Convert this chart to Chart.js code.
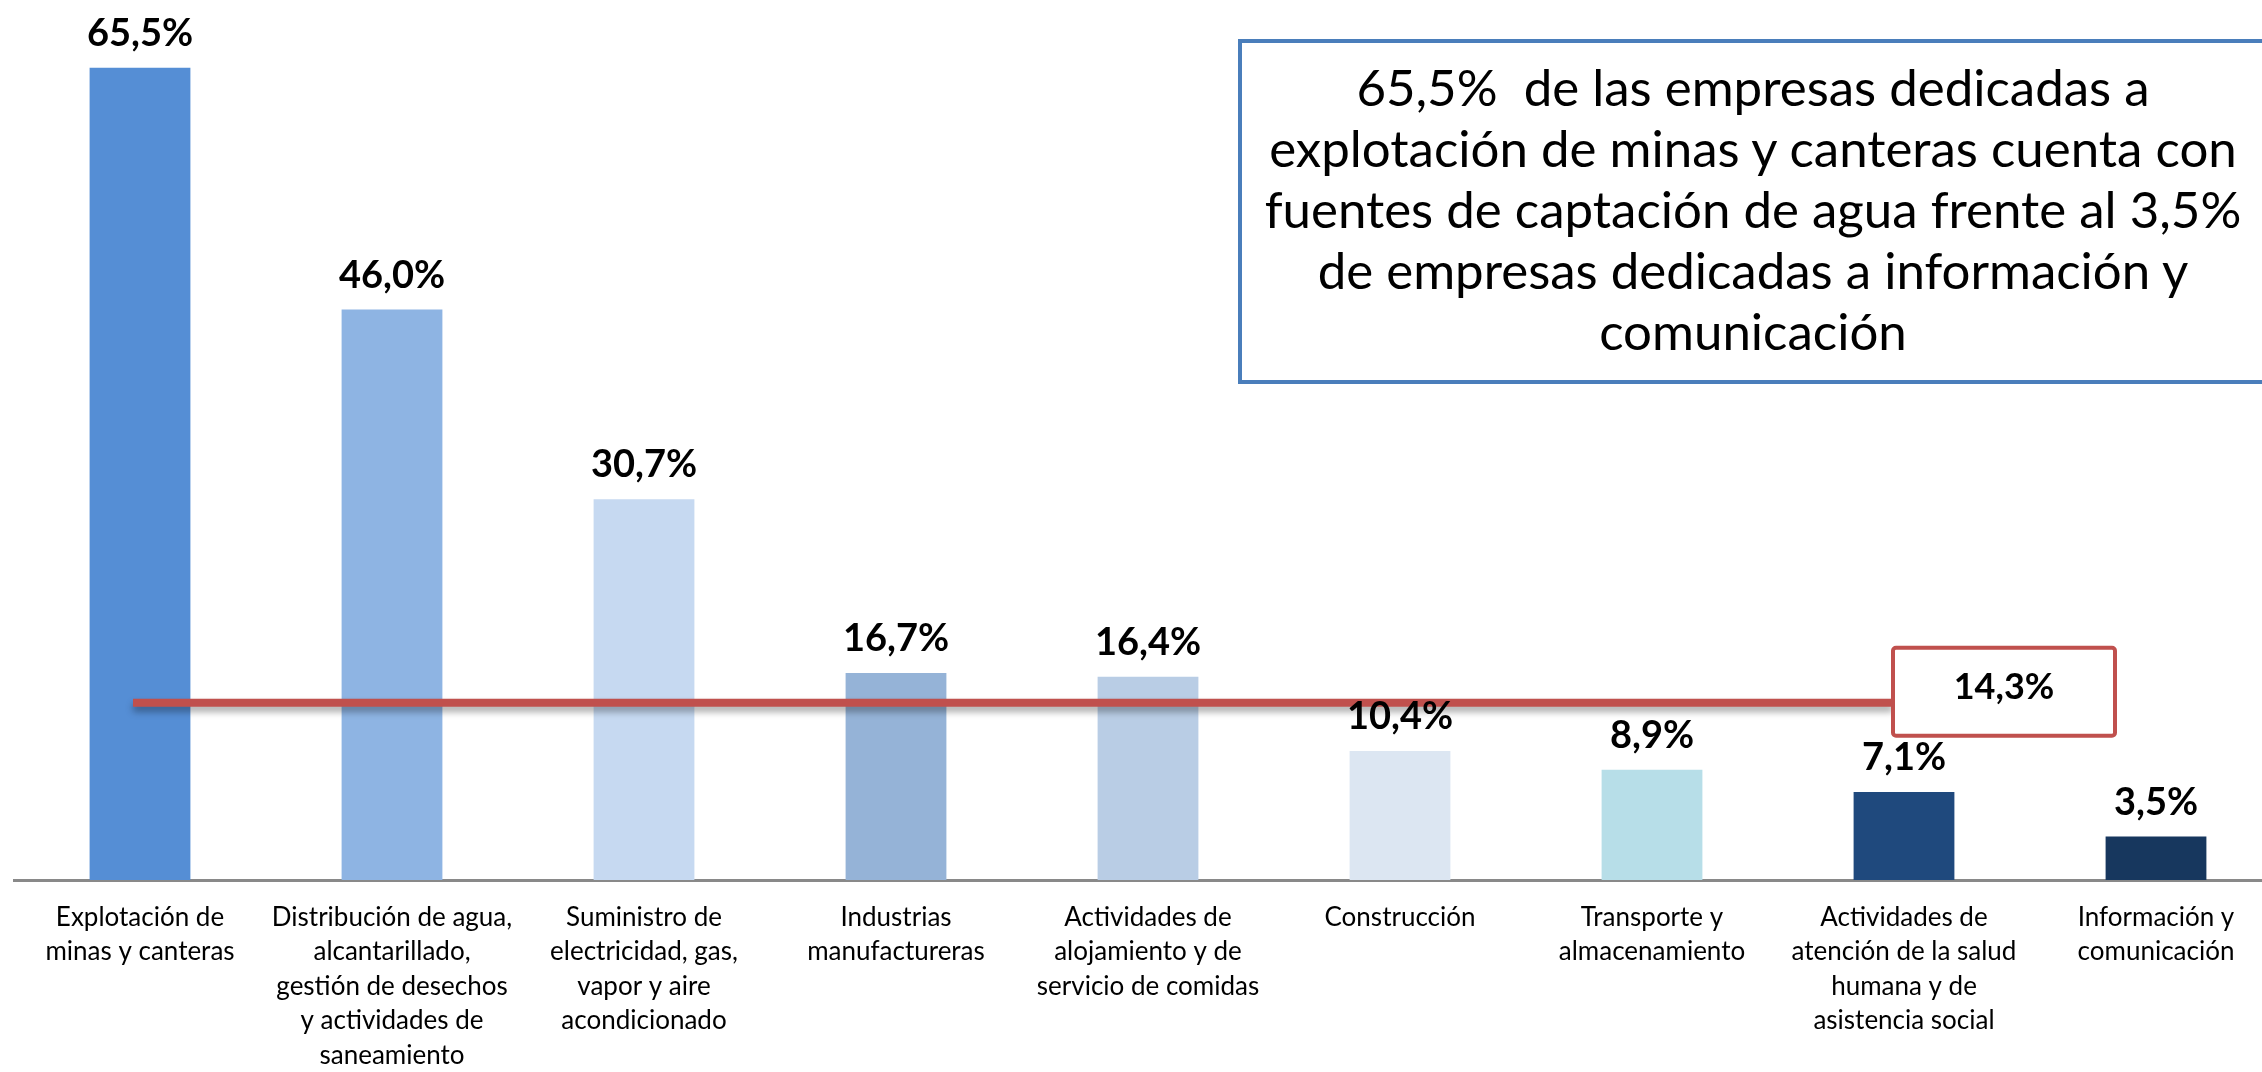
<!DOCTYPE html>
<html>
<head>
<meta charset="utf-8">
<script src="https://cdn.jsdelivr.net/npm/chart.js@4.4.1/dist/chart.umd.min.js"></script>
<style>
  html, body { margin: 0; padding: 0; background: #fff; overflow: hidden; }
  #wrap { position: relative; width: 2262px; height: 1072px; overflow: hidden; }
  #chart { position: absolute; left: 0; top: 0; }
  #note {
    position: absolute; left: 1238px; top: 39px; width: 1030px; height: 345px;
    box-sizing: border-box; border: 4px solid #4A7EBB; background: #fff;
    font-family: Lato, sans-serif; font-size: 51px; line-height: 61px;
    text-align: center; color: #000; padding-top: 13px; white-space: nowrap;
  }
</style>
</head>
<body>
<div id="wrap">
  <canvas id="chart" width="2282" height="1072"></canvas>
  <div id="note">65,5%&nbsp; de las empresas dedicadas a<br>explotación de minas y canteras cuenta con<br>fuentes de captación de agua frente al 3,5%<br>de empresas dedicadas a información y<br>comunicación</div>
</div>
<script>
// categories, wrapped as in the original slide
const categories = [
  ["Explotación de", "minas y canteras"],
  ["Distribución de agua,", "alcantarillado,", "gestión de desechos", "y actividades de", "saneamiento"],
  ["Suministro de", "electricidad, gas,", "vapor y aire", "acondicionado"],
  ["Industrias", "manufactureras"],
  ["Actividades de", "alojamiento y de", "servicio de comidas"],
  ["Construcción"],
  ["Transporte y", "almacenamiento"],
  ["Actividades de", "atención de la salud", "humana y de", "asistencia social"],
  ["Información y", "comunicación"]
];
const values = [65.5, 46.0, 30.7, 16.7, 16.4, 10.4, 8.9, 7.1, 3.5];
const barColors = ["#558ED5", "#8EB4E3", "#C6D9F1", "#95B3D7", "#B9CDE5", "#DCE6F2", "#B7DEE8", "#1F497D", "#17375E"];
const average = 14.3;

const fmt = (v) => v.toFixed(1).replace('.', ',') + '%';

const labelsAndAverage = {
  id: 'labelsAndAverage',
  afterDatasetsDraw(chart) {
    const ctx = chart.ctx;
    const xs = chart.scales.x;
    const ys = chart.scales.y;
    const meta = chart.getDatasetMeta(0);

    // average line with its shadow
    const yAvg = ys.getPixelForValue(average);
    const boxLeft = xs.getPixelForValue(7) - 11;
    ctx.save();
    ctx.shadowColor = 'rgba(0,0,0,0.35)';
    ctx.shadowBlur = 7;
    ctx.shadowOffsetY = 5;
    ctx.strokeStyle = '#C0504D';
    ctx.lineWidth = 8;
    ctx.beginPath();
    ctx.moveTo(xs.getPixelForValue(0) - 7, yAvg);
    ctx.lineTo(boxLeft, yAvg);
    ctx.stroke();
    ctx.restore();

    // average box
    ctx.save();
    ctx.fillStyle = '#fff';
    ctx.strokeStyle = '#C0504D';
    ctx.lineWidth = 4;
    ctx.beginPath();
    ctx.roundRect(boxLeft, yAvg - 55, 222, 88, 3);
    ctx.fill();
    ctx.stroke();
    ctx.fillStyle = '#000';
    ctx.font = 'bold 36px Lato';
    ctx.textAlign = 'center';
    ctx.textBaseline = 'middle';
    ctx.fillText(fmt(average), boxLeft + 111, yAvg - 15);
    ctx.restore();

    // data labels
    ctx.save();
    ctx.fillStyle = '#000';
    ctx.font = 'bold 38px Lato';
    ctx.textAlign = 'center';
    ctx.textBaseline = 'alphabetic';
    meta.data.forEach((bar, i) => {
      ctx.fillText(fmt(values[i]), bar.x, bar.y - 22);
    });
    ctx.restore();
  }
};

const ctx = document.getElementById('chart').getContext('2d');
const chart = new Chart(ctx, {
  type: 'bar',
  data: {
    labels: categories,
    datasets: [{
      data: values,
      backgroundColor: barColors,
      borderWidth: 0,
      barPercentage: 0.8,
      categoryPercentage: 0.5
    }]
  },
  options: {
    responsive: false,
    animation: false,
    layout: { padding: { left: 14, top: 12, right: 0, bottom: 0 } },
    plugins: { legend: { display: false }, tooltip: { enabled: false } },
    scales: {
      y: { display: false, min: 0, max: 70 },
      x: {
        grid: { display: false, drawTicks: false },
        border: { display: true, color: '#898989', width: 3 },
        ticks: {
          color: '#000',
          padding: 20,
          maxRotation: 0,
          autoSkip: false,
          font: { family: 'Lato', size: 26, lineHeight: 1.33 }
        },
        afterFit: (axis) => { axis.height = 192; }
      }
    }
  },
  plugins: [labelsAndAverage]
});
</script>
</body>
</html>
